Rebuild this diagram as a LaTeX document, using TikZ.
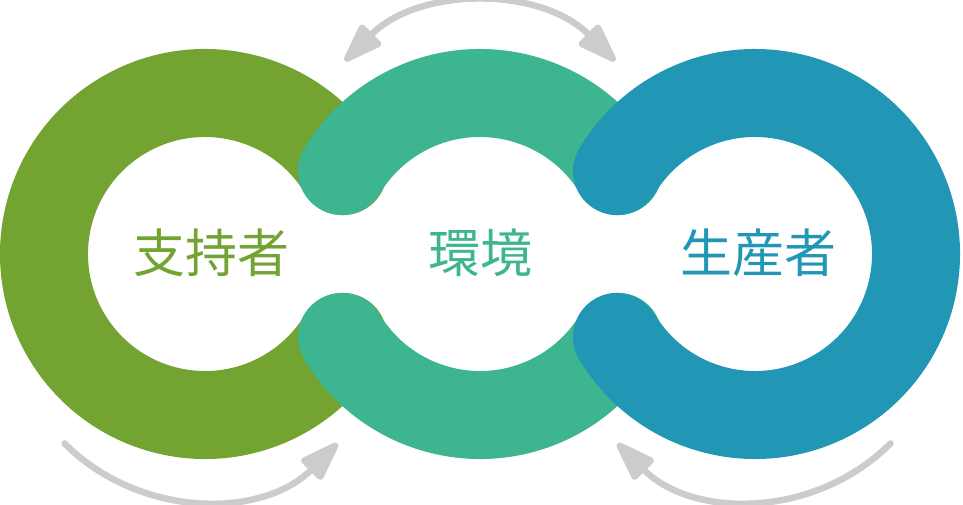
\documentclass[tikz,border=0pt]{standalone}
\usepackage{fontspec}
\newfontfamily\cjk{Noto Sans CJK JP}
\usetikzlibrary{arrows.meta}
\definecolor{olivering}{HTML}{73A331}
\definecolor{greenring}{HTML}{3EB591}
\definecolor{bluering}{HTML}{2197B5}
\definecolor{arrowgray}{HTML}{CCCCCC}
\tikzset{
  ring/.style={line width=88pt, line cap=round},
  cyc/.style={draw=arrowgray, line width=6.5pt, line cap=round,
    -{Triangle[length=46pt,width=30pt,round]}},
  cycboth/.style={draw=arrowgray, line width=6.5pt, line cap=round,
    {Triangle[length=46pt,width=30pt,round]}-{Triangle[length=46pt,width=30pt,round]}},
  lbl/.style={font=\cjk\fontsize{52}{52}\selectfont, inner sep=0pt}
}
\begin{document}
\begin{tikzpicture}[x=1pt,y=1pt]
\useasboundingbox (0,0) rectangle (963,504);
% ring centres
\coordinate (cL) at (205,250);
\coordinate (cM) at (480,250);
\coordinate (cR) at (755,250);
% left ring (C opening right)
\draw[ring, olivering] ([shift={(31:161pt)}]cL) arc[start angle=31, end angle=329, radius=161pt];
% middle ring arcs
\draw[ring, greenring] ([shift={(31:161pt)}]cM) arc[start angle=31, end angle=149, radius=161pt];
\draw[ring, greenring] ([shift={(211:161pt)}]cM) arc[start angle=211, end angle=329, radius=161pt];
% right ring (C opening left)
\draw[ring, bluering] ([shift={(-149:161pt)}]cR) arc[start angle=-149, end angle=149, radius=161pt];
% labels
\node[lbl, text=olivering] (sup) at (211,251) {支持者};
\node[lbl, text=greenring] (env) at (480,251) {環境};
\node[lbl, text=bluering] (pro) at (758,251) {生産者};
% cycle arrows
\coordinate (aT) at (480,308);
\coordinate (aBL) at (201,197);
\coordinate (aBR) at (754,197);
\draw[cycboth] ([shift={(135:191pt)}]aT) arc[start angle=135, end angle=45, radius=191pt];
\draw[cyc] ([shift={(225:193pt)}]aBL) arc[start angle=225, end angle=315, radius=193pt];
\draw[cyc] ([shift={(315:193pt)}]aBR) arc[start angle=315, end angle=225, radius=193pt];
\end{tikzpicture}
\end{document}
